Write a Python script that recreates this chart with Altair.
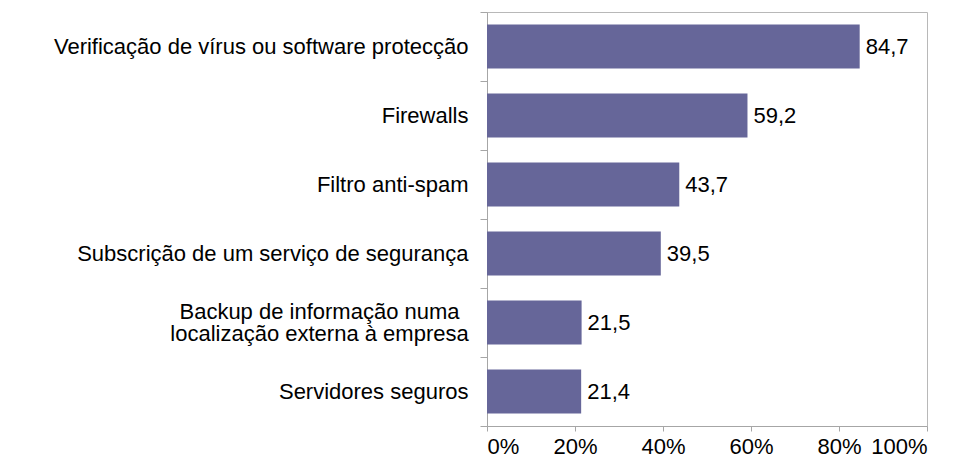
import altair as alt
import pandas as pd

categories = [
    "Verificação de vírus ou software protecção",
    "Firewalls",
    "Filtro anti-spam",
    "Subscrição de um serviço de segurança",
    "Backup de informação numa\nlocalização externa à empresa",
    "Servidores seguros",
]
values = [84.7, 59.2, 43.7, 39.5, 21.5, 21.4]
x_ticks = [0, 20, 40, 60, 80, 100]

df = pd.DataFrame({"cat": categories, "val": values})

FONT = "Liberation Sans"
FS = 22
MULTI = "indexof(datum.label, '\\n') >= 0"

base = alt.Chart(df).encode(
    y=alt.Y(
        "cat:N",
        sort=categories,
        scale=alt.Scale(paddingInner=0, paddingOuter=0),
        axis=alt.Axis(
            title=None,
            labelExpr="split(datum.label, '\\n')",
            labelFont=FONT,
            labelFontSize=FS,
            labelColor="#000000",
            labelLineHeight=22,
            labelAlign={"condition": {"test": MULTI, "value": "center"}, "value": "right"},
            labelPadding={"condition": {"test": MULTI, "value": 161}, "value": 12},
            labelOffset={"condition": {"test": MULTI, "value": -11}, "value": 0},
            tickSize=7,
            tickBand="extent",
            tickColor="#a6a6a6",
            domainColor="#a6a6a6",
            labelLimit=600,
        ),
    )
)

bars = base.mark_bar(color="#666699", size=44).encode(
    x=alt.X(
        "val:Q",
        scale=alt.Scale(domain=[0, 100], nice=False),
        axis=alt.Axis(
            title=None,
            values=x_ticks,
            labelExpr="datum.value + '%'",
            labelFont=FONT,
            labelFontSize=FS,
            labelColor="#000000",
            labelPadding=5,
            tickSize=5,
            tickColor="#a6a6a6",
            domainColor="#a6a6a6",
            grid=False,
        ),
    )
)

labels = base.mark_text(
    align="left", baseline="middle", dx=6, font=FONT, fontSize=FS, color="#000000"
).transform_calculate(
    lbl="replace(format(datum.val, '.1f'), '.', ',')"
).encode(
    x=alt.X("val:Q"),
    text="lbl:N",
)

chart = (
    alt.layer(bars, labels)
    .properties(
        width=440,
        height=414,
        autosize=alt.AutoSizeParams(type="none"),
        padding={"left": 479, "top": 4, "right": 10, "bottom": 31},
    )
    .configure_view(stroke="#b8b8b8", strokeWidth=1)
)

chart.save("out.html", embed_options={"renderer": "svg", "actions": False})
